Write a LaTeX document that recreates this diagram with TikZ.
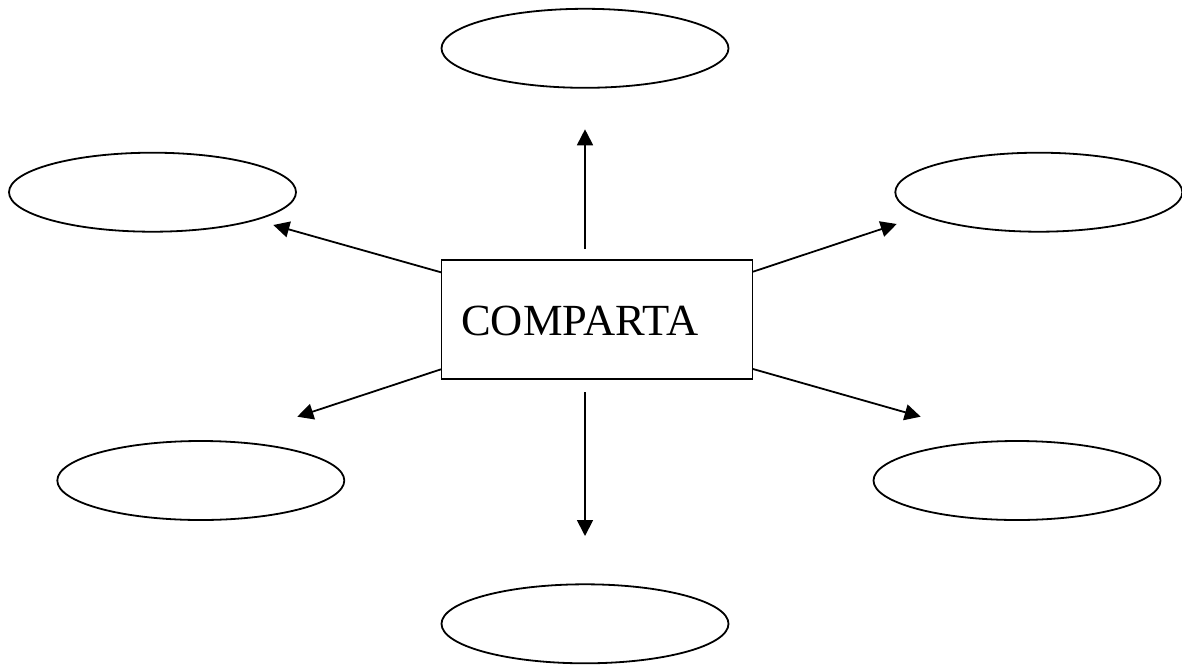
\documentclass[tikz,border=0pt]{standalone}
\usepackage{fontspec}
\setmainfont{Liberation Serif}
\usetikzlibrary{shapes.geometric,arrows.meta}
\begin{document}
\begin{tikzpicture}[x=1pt,y=-1pt,
  oval/.style={draw=black,line width=1.8pt,ellipse,inner sep=0pt,
    minimum width=287pt,minimum height=79pt},
  mainbox/.style={draw=black,line width=1.8pt,rectangle,inner sep=0pt,
    minimum width=311pt,minimum height=119pt},
  arr/.style={line width=1.8pt,-{Triangle[length=16pt,width=16pt]}}]
\useasboundingbox (0,0) rectangle (1182,664);
% central box and its label
\node[mainbox] (box) at (597,319.7) {};
\node[anchor=base west,inner sep=0pt,font=\fontsize{44.5}{52}\selectfont] (title) at (461,335.7) {COMPARTA};
% surrounding ovals
\node[oval] (eT)  at (585,48.3) {};
\node[oval] (eB)  at (585,623.8) {};
\node[oval] (eLT) at (152.5,192.2) {};
\node[oval] (eRT) at (1038.8,192.2) {};
\node[oval] (eLB) at (200.8,480.5) {};
\node[oval] (eRB) at (1017,480.5) {};
% arrow end points
\coordinate (sU) at (585,249);   \coordinate (tU) at (585,129.3);
\coordinate (sD) at (585,392.3); \coordinate (tD) at (585,536);
\coordinate (sLT) at (441,272.3); \coordinate (tLT) at (273.3,225);
\coordinate (sLB) at (441,369.3); \coordinate (tLB) at (297.3,416.7);
\coordinate (sRT) at (753,271.7); \coordinate (tRT) at (896.7,224);
\coordinate (sRB) at (753,369);   \coordinate (tRB) at (920.7,416.7);
% arrows pointing out from the box
\draw[arr] (sU) -- (tU);
\draw[arr] (sD) -- (tD);
\draw[arr] (sLT) -- (tLT);
\draw[arr] (sLB) -- (tLB);
\draw[arr] (sRT) -- (tRT);
\draw[arr] (sRB) -- (tRB);
\end{tikzpicture}
\end{document}
